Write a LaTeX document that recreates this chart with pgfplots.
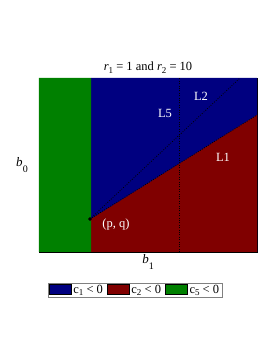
\documentclass[border=0pt]{standalone}
\usepackage{pgfplots}
\pgfplotsset{compat=1.18}
\usepackage{fontspec}
\setmainfont{Liberation Serif}
\definecolor{cblue}{RGB}{0,0,128}
\definecolor{cred}{RGB}{128,0,0}
\definecolor{cgreen}{RGB}{0,128,0}
\newcommand{\sub}[1]{\raisebox{-0.45ex}{\fontsize{9}{10}\selectfont #1}}
\begin{document}
\begin{tikzpicture}
\path[use as bounding box] (-39pt,-106pt) rectangle (238pt,252pt);
\begin{axis}[
  at={(0,0)}, anchor=south west,
  scale only axis, width=218pt, height=174pt,
  xmin=0, xmax=218, ymin=0, ymax=174,
  xtick=\empty, ytick=\empty,
  axis line style={black, line width=0.5pt},
  clip=true,
  title={\textit{r}\sub{1} = 1 and \textit{r}\sub{2} = 10},
  title style={font=\fontsize{12.5}{14}\selectfont, yshift=-5pt},
  legend columns=3,
  legend style={at={(axis cs:96,-38)}, anchor=center, draw=gray, line width=0.6pt,
    font=\fontsize{12.5}{14}\selectfont, inner xsep=1pt, inner ysep=0pt,
    /tikz/every even column/.append style={column sep=2pt}},
  legend cell align=left,
]
\addplot[fill=cblue, draw=none, area legend,
  legend image code/.code={\draw[fill=cblue, draw=black, line width=0.5pt] (0pt,-4pt) rectangle (22pt,5.5pt);}]
  coordinates {(52,0) (218,0) (218,174) (52,174)} \closedcycle;
\addlegendentry{c\sub{1} < 0}
\addplot[fill=cred, draw=none, area legend,
  legend image code/.code={\draw[fill=cred, draw=black, line width=0.5pt] (0pt,-4pt) rectangle (22pt,5.5pt);}]
  coordinates {(52,0) (52,33) (218,137) (218,0)} \closedcycle;
\addlegendentry{c\sub{2} < 0}
\addplot[fill=cgreen, draw=none, area legend,
  legend image code/.code={\draw[fill=cgreen, draw=black, line width=0.5pt] (0pt,-4pt) rectangle (22pt,5.5pt);}]
  coordinates {(0,0) (0,174) (52,174) (52,0)} \closedcycle;
\addlegendentry{c\sub{5} < 0}
\addplot[black, line width=0.8pt, dash pattern=on 0.8pt off 1.6pt, forget plot] coordinates {(51,33) (201,174)};
\addplot[black, line width=0.8pt, dash pattern=on 0.8pt off 1.6pt, forget plot] coordinates {(51,33) (218,137)};
\addplot[black, line width=0.8pt, dash pattern=on 0.8pt off 1.6pt, forget plot] coordinates {(140,0) (140,174)};
\addplot[black, only marks, mark=*, mark size=1.6pt, forget plot] coordinates {(51,33)};
\node[white, font=\fontsize{12.5}{14}\selectfont] at (axis cs:126,139) {L5};
\node[white, font=\fontsize{12.5}{14}\selectfont] at (axis cs:162,156) {L2};
\node[white, font=\fontsize{12.5}{14}\selectfont] at (axis cs:184,95) {L1};
\node[white, font=\fontsize{12.5}{14}\selectfont] at (axis cs:77,28) {(p, q)};
\end{axis}
\node[font=\fontsize{13}{15}\selectfont] at (-17pt,87pt) {\textit{b}\raisebox{-0.9ex}{\fontsize{10}{11}\selectfont 0}};
\node[font=\fontsize{13}{15}\selectfont] at (109pt,-10pt) {\textit{b}\raisebox{-0.9ex}{\fontsize{10}{11}\selectfont 1}};
\end{tikzpicture}
\end{document}
